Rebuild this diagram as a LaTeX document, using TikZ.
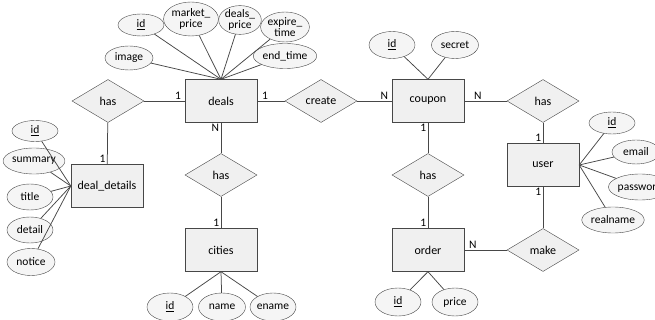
\documentclass[tikz,border=0pt]{standalone}
\usepackage{fontspec}
\setmainfont{Carlito}
\usetikzlibrary{shapes.geometric}
\tikzset{
  ent/.style={draw=black!72, fill=black!6, rectangle, minimum width=72pt, minimum height=43pt, inner sep=0pt, font=\fontsize{12}{13}\selectfont},
  rel/.style={draw=black!72, fill=black!6, diamond, minimum width=72pt, minimum height=43pt, inner sep=0pt, font=\fontsize{12}{13}\selectfont},
  attr/.style={draw=black!72, fill=black!4, ellipse, inner sep=0pt, align=center, font=\fontsize{11.5}{10.5}\selectfont},
  card/.style={inner sep=1.5pt, font=\fontsize{11.5}{12}\selectfont},
  conn/.style={draw=black!72, line width=0.75pt}
}
\begin{document}
\begin{tikzpicture}[x=1pt,y=-1pt]
\useasboundingbox (0,0) rectangle (655,320);
\clip (0,0) rectangle (655,320);
% entities
\node[ent] (deals) at (221,101) {deals};
\node[ent] (coupon) at (428,101) {coupon};
\node[ent] (user) at (543,165) {user};
\node[ent] (order) at (428,250) {order};
\node[ent] (cities) at (221,250) {cities};
\node[ent] (dd) at (107,186) {deal\_details};
% relationships
\node[rel] (has1) at (108,101) {has};
\node[rel] (create) at (321,101) {create};
\node[rel] (has3) at (543,101) {has};
\node[rel] (has2) at (221,175) {has};
\node[rel] (has4) at (428,175) {has};
\node[rel] (make) at (543,250) {make};
% deals attributes
\node[attr, minimum width=46pt, minimum height=22pt] (did) at (141,25) {\underline{id}};
\node[attr, minimum width=48pt, minimum height=34pt] (dmp) at (191,19) {market\_\\price};
\node[attr, minimum width=38pt, minimum height=28pt] (ddp) at (240,20) {deals\_\\price};
\node[attr, minimum width=46pt, minimum height=30pt] (dexp) at (285,27) {expire\_\\time};
\node[attr, minimum width=54pt, minimum height=25pt] (dend) at (285,56) {end\_time};
\node[attr, minimum width=48pt, minimum height=24pt] (dimg) at (129,58) {image};
% coupon attributes
\node[attr, minimum width=46pt, minimum height=27pt] (cid) at (392,45) {\underline{id}};
\node[attr, minimum width=47pt, minimum height=27pt] (csec) at (455,45) {secret};
% user attributes
\node[attr, minimum width=46pt, minimum height=22pt] (uid) at (612,123) {\underline{id}};
\node[attr, minimum width=48pt, minimum height=24pt] (uem) at (636,152) {email};
\node[attr, minimum width=58pt, minimum height=26pt] (upw) at (640,187) {password};
\node[attr, minimum width=56pt, minimum height=26pt] (urn) at (613,220) {realname};
% order attributes
\node[attr, minimum width=46pt, minimum height=28pt] (oid) at (398,302) {\underline{id}};
\node[attr, minimum width=46pt, minimum height=28pt] (opr) at (455,302) {price};
% cities attributes
\node[attr, minimum width=46pt, minimum height=28pt] (ciid) at (170,307) {\underline{id}};
\node[attr, minimum width=47pt, minimum height=28pt] (cinm) at (222,307) {name};
\node[attr, minimum width=46pt, minimum height=28pt] (cien) at (273,307) {ename};
% deal_details attributes
\node[attr, minimum width=46pt, minimum height=21pt] (ddid) at (35,131) {\underline{id}};
\node[attr, minimum width=54pt, minimum height=26pt] (ddsum) at (34,161) {summary};
\node[attr, minimum width=46pt, minimum height=26pt] (ddtit) at (30,197) {title};
\node[attr, minimum width=46pt, minimum height=26pt] (dddet) at (30,230) {detail};
\node[attr, minimum width=48pt, minimum height=27pt] (ddnot) at (31,262) {notice};
% attribute connectors
\foreach \a in {did,dmp,ddp,dexp,dend,dimg} \draw[conn] (\a) -- (deals.north);
\foreach \a in {cid,csec} \draw[conn] (\a) -- (coupon.north);
\foreach \a in {uid,uem,upw,urn} \draw[conn] (\a) -- (user.east);
\foreach \a in {oid,opr} \draw[conn] (\a) -- (order.south);
\foreach \a in {ciid,cinm,cien} \draw[conn] (\a) -- (cities.south);
\foreach \a in {ddid,ddsum,ddtit,dddet,ddnot} \draw[conn] (\a) -- (dd.west);
% relationship connectors with cardinalities
\draw[conn] (has1) -- (deals) node[card, pos=1, above left, xshift=-2pt] {1};
\draw[conn] (deals) -- (create) node[card, pos=0, above right, xshift=3pt] {1};
\draw[conn] (create) -- (coupon) node[card, pos=1, above left, xshift=-2pt] {N};
\draw[conn] (coupon) -- (has3) node[card, pos=0, above right, xshift=8pt] {N};
\draw[conn] (has3) -- (user) node[card, pos=1, above left] {1};
\draw[conn] (user) -- (make) node[card, pos=0, below left] {1};
\draw[conn] (order) -- (make) node[card, pos=0, above right, xshift=3pt] {N};
\draw[conn] (coupon) -- (has4) node[card, pos=0, below left] {1};
\draw[conn] (has4) -- (order) node[card, pos=1, above left] {1};
\draw[conn] (deals) -- (has2) node[card, pos=0, below left] {N};
\draw[conn] (has2) -- (cities) node[card, pos=1, above left] {1};
\draw[conn] (has1) -- (dd) node[card, pos=1, above left] {1};
\end{tikzpicture}
\end{document}
